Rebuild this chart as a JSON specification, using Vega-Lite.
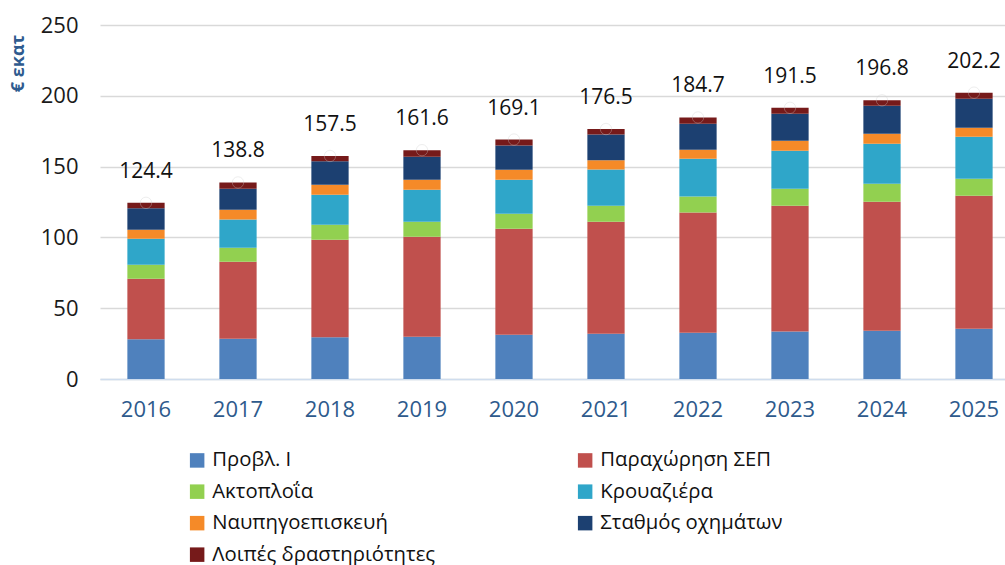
{
  "$schema": "https://vega.github.io/schema/vega-lite/v6.json",
  "autosize": {"type": "none"},
  "padding": {"left": 100, "top": 25, "right": 0, "bottom": 186},
  "width": 905,
  "height": 354,
  "background": "white",
  "config": {
    "view": {"stroke": null},
    "font": "Open Sans",
    "axis": {"labelFont": "Open Sans", "titleFont": "Open Sans"},
    "legend": {"labelFont": "Open Sans"}
  },
  "datasets": {
    "segments": [
      {"year": "2016", "cat": "Προβλ. Ι", "value": 28.0},
      {"year": "2016", "cat": "Παραχώρηση ΣΕΠ", "value": 42.8},
      {"year": "2016", "cat": "Ακτοπλοΐα", "value": 9.9},
      {"year": "2016", "cat": "Κρουαζιέρα", "value": 18.4},
      {"year": "2016", "cat": "Ναυπηγοεπισκευή", "value": 6.3},
      {"year": "2016", "cat": "Σταθμός οχημάτων", "value": 15.1},
      {"year": "2016", "cat": "Λοιπές δραστηριότητες", "value": 3.9},
      {"year": "2017", "cat": "Προβλ. Ι", "value": 28.5},
      {"year": "2017", "cat": "Παραχώρηση ΣΕΠ", "value": 54.3},
      {"year": "2017", "cat": "Ακτοπλοΐα", "value": 9.9},
      {"year": "2017", "cat": "Κρουαζιέρα", "value": 20.0},
      {"year": "2017", "cat": "Ναυπηγοεπισκευή", "value": 6.9},
      {"year": "2017", "cat": "Σταθμός οχημάτων", "value": 14.8},
      {"year": "2017", "cat": "Λοιπές δραστηριότητες", "value": 4.4},
      {"year": "2018", "cat": "Προβλ. Ι", "value": 29.4},
      {"year": "2018", "cat": "Παραχώρηση ΣΕΠ", "value": 68.9},
      {"year": "2018", "cat": "Ακτοπλοΐα", "value": 10.6},
      {"year": "2018", "cat": "Κρουαζιέρα", "value": 21.2},
      {"year": "2018", "cat": "Ναυπηγοεπισκευή", "value": 7.1},
      {"year": "2018", "cat": "Σταθμός οχημάτων", "value": 16.5},
      {"year": "2018", "cat": "Λοιπές δραστηριότητες", "value": 3.8},
      {"year": "2019", "cat": "Προβλ. Ι", "value": 29.9},
      {"year": "2019", "cat": "Παραχώρηση ΣΕΠ", "value": 70.6},
      {"year": "2019", "cat": "Ακτοπλοΐα", "value": 10.6},
      {"year": "2019", "cat": "Κρουαζιέρα", "value": 22.6},
      {"year": "2019", "cat": "Ναυπηγοεπισκευή", "value": 7.0},
      {"year": "2019", "cat": "Σταθμός οχημάτων", "value": 16.3},
      {"year": "2019", "cat": "Λοιπές δραστηριότητες", "value": 4.6},
      {"year": "2020", "cat": "Προβλ. Ι", "value": 31.3},
      {"year": "2020", "cat": "Παραχώρηση ΣΕΠ", "value": 74.8},
      {"year": "2020", "cat": "Ακτοπλοΐα", "value": 10.6},
      {"year": "2020", "cat": "Κρουαζιέρα", "value": 24.0},
      {"year": "2020", "cat": "Ναυπηγοεπισκευή", "value": 7.1},
      {"year": "2020", "cat": "Σταθμός οχημάτων", "value": 17.1},
      {"year": "2020", "cat": "Λοιπές δραστηριότητες", "value": 4.2},
      {"year": "2021", "cat": "Προβλ. Ι", "value": 32.0},
      {"year": "2021", "cat": "Παραχώρηση ΣΕΠ", "value": 79.1},
      {"year": "2021", "cat": "Ακτοπλοΐα", "value": 11.3},
      {"year": "2021", "cat": "Κρουαζιέρα", "value": 25.6},
      {"year": "2021", "cat": "Ναυπηγοεπισκευή", "value": 6.4},
      {"year": "2021", "cat": "Σταθμός οχημάτων", "value": 18.3},
      {"year": "2021", "cat": "Λοιπές δραστηριότητες", "value": 3.8},
      {"year": "2022", "cat": "Προβλ. Ι", "value": 32.7},
      {"year": "2022", "cat": "Παραχώρηση ΣΕΠ", "value": 84.8},
      {"year": "2022", "cat": "Ακτοπλοΐα", "value": 11.3},
      {"year": "2022", "cat": "Κρουαζιέρα", "value": 26.8},
      {"year": "2022", "cat": "Ναυπηγοεπισκευή", "value": 6.3},
      {"year": "2022", "cat": "Σταθμός οχημάτων", "value": 18.4},
      {"year": "2022", "cat": "Λοιπές δραστηριότητες", "value": 4.4},
      {"year": "2023", "cat": "Προβλ. Ι", "value": 33.6},
      {"year": "2023", "cat": "Παραχώρηση ΣΕΠ", "value": 88.8},
      {"year": "2023", "cat": "Ακτοπλοΐα", "value": 12.0},
      {"year": "2023", "cat": "Κρουαζιέρα", "value": 26.8},
      {"year": "2023", "cat": "Ναυπηγοεπισκευή", "value": 7.1},
      {"year": "2023", "cat": "Σταθμός οχημάτων", "value": 19.1},
      {"year": "2023", "cat": "Λοιπές δραστηριότητες", "value": 4.1},
      {"year": "2024", "cat": "Προβλ. Ι", "value": 34.1},
      {"year": "2024", "cat": "Παραχώρηση ΣΕΠ", "value": 91.1},
      {"year": "2024", "cat": "Ακτοπλοΐα", "value": 12.7},
      {"year": "2024", "cat": "Κρουαζιέρα", "value": 28.3},
      {"year": "2024", "cat": "Ναυπηγοεπισκευή", "value": 7.0},
      {"year": "2024", "cat": "Σταθμός οχημάτων", "value": 19.8},
      {"year": "2024", "cat": "Λοιπές δραστηριότητες", "value": 3.8},
      {"year": "2025", "cat": "Προβλ. Ι", "value": 35.5},
      {"year": "2025", "cat": "Παραχώρηση ΣΕΠ", "value": 93.9},
      {"year": "2025", "cat": "Ακτοπλοΐα", "value": 12.1},
      {"year": "2025", "cat": "Κρουαζιέρα", "value": 29.6},
      {"year": "2025", "cat": "Ναυπηγοεπισκευή", "value": 6.4},
      {"year": "2025", "cat": "Σταθμός οχημάτων", "value": 20.4},
      {"year": "2025", "cat": "Λοιπές δραστηριότητες", "value": 4.3}
    ],
    "totals": [
      {"year": "2016", "total": 124.4},
      {"year": "2017", "total": 138.8},
      {"year": "2018", "total": 157.5},
      {"year": "2019", "total": 161.6},
      {"year": "2020", "total": 169.1},
      {"year": "2021", "total": 176.5},
      {"year": "2022", "total": 184.7},
      {"year": "2023", "total": 191.5},
      {"year": "2024", "total": 196.8},
      {"year": "2025", "total": 202.2}
    ]
  },
  "encoding": {
    "x": {
      "field": "year",
      "type": "nominal",
      "scale": {"range": [0, 920], "paddingInner": 0.595, "paddingOuter": 0.2975},
      "axis": {
        "title": null,
        "labelAngle": 0,
        "labelFontSize": 22,
        "labelColor": "#2E5A8C",
        "labelPadding": 20,
        "ticks": false,
        "domainColor": "#CFDDEE",
        "domainWidth": 1.5
      }
    }
  },
  "layer": [
    {
      "data": {"name": "segments"},
      "transform": [
        {"calculate": "indexof(['Προβλ. Ι', 'Παραχώρηση ΣΕΠ', 'Ακτοπλοΐα', 'Κρουαζιέρα', 'Ναυπηγοεπισκευή', 'Σταθμός οχημάτων', 'Λοιπές δραστηριότητες'], datum.cat)", "as": "stackOrder"}
      ],
      "mark": {"type": "bar"},
      "encoding": {
        "y": {
          "field": "value",
          "type": "quantitative",
          "stack": "zero",
          "scale": {"domain": [0, 250], "nice": false, "zero": true},
          "axis": {
            "values": [0, 50, 100, 150, 200, 250],
            "title": "€ εκατ",
            "titleFontSize": 18,
            "titleFontWeight": "bold",
            "titleColor": "#2F5B8F",
            "titleX": -82,
            "titleY": 38,
            "titleAngle": -90,
            "titleAlign": "center",
            "titleBaseline": "middle",
            "labelFontSize": 22,
            "labelColor": "#1a1a1a",
            "labelPadding": 22,
            "ticks": false,
            "domain": false,
            "gridColor": "#D9D9D9",
            "gridWidth": 1.5
          }
        },
        "order": {"field": "stackOrder", "type": "quantitative", "sort": "ascending"},
        "color": {
          "field": "cat",
          "type": "nominal",
          "scale": {
            "domain": ["Προβλ. Ι", "Ακτοπλοΐα", "Ναυπηγοεπισκευή", "Λοιπές δραστηριότητες", "Παραχώρηση ΣΕΠ", "Κρουαζιέρα", "Σταθμός οχημάτων"],
            "range": ["#4F81BD", "#92D050", "#F58A28", "#761A1A", "#C0504D", "#2FA6C9", "#1C4071"]
          },
          "legend": {
            "title": null,
            "orient": "none",
            "legendX": 87,
            "legendY": 425,
            "columns": 2,
            "columnPadding": 139,
            "rowPadding": 10.5,
            "symbolType": "square",
            "symbolSize": 210,
            "symbolStrokeWidth": 0,
            "labelFontSize": 20.3,
            "labelColor": "#111111",
            "labelOffset": 5,
            "labelLimit": 400
          }
        }
      }
    },
    {
      "data": {"name": "totals"},
      "mark": {"type": "point", "filled": false, "stroke": "#d0d0d0", "strokeWidth": 1, "opacity": 0.35, "size": 130},
      "encoding": {
        "y": {"field": "total", "type": "quantitative", "scale": {"domain": [0, 250], "nice": false}}
      }
    },
    {
      "data": {"name": "totals"},
      "mark": {"type": "text", "fontSize": 21, "color": "#111111", "baseline": "middle", "dy": -31},
      "encoding": {
        "y": {"field": "total", "type": "quantitative", "scale": {"domain": [0, 250], "nice": false}},
        "text": {"field": "total", "type": "quantitative", "format": ".1f"}
      }
    }
  ]
}
